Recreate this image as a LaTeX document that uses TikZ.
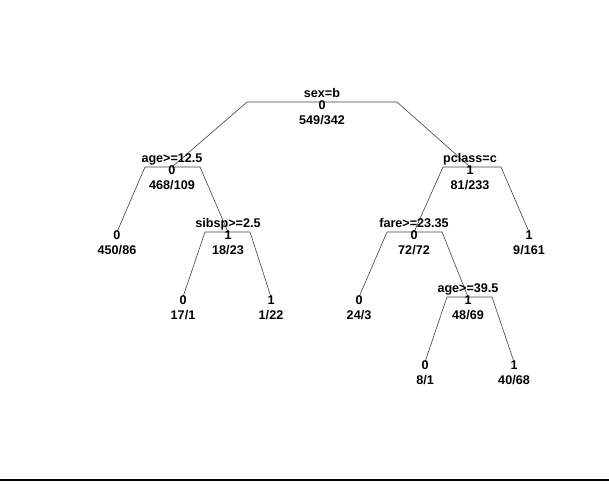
\documentclass[tikz,border=0pt]{standalone}
\usepackage{fontspec}
\setmainfont{Liberation Sans}
\begin{document}
\begin{tikzpicture}[x=1pt,y=-1pt,
  txt/.style={font=\bfseries\fontsize{12.6}{14}\selectfont, inner sep=0pt, anchor=base},
  br/.style={line width=0.6pt, draw=black!75}]
\useasboundingbox (0,0) rectangle (609,483);
% tree node points
\coordinate (n1) at (322,102);
\coordinate (n2) at (172,167);
\coordinate (n3) at (470,167);
\coordinate (n4) at (117,232);
\coordinate (n5) at (228,232);
\coordinate (n6) at (414,232);
\coordinate (n7) at (529,232);
\coordinate (n10) at (183,297);
\coordinate (n11) at (271,297);
\coordinate (n12) at (359,297);
\coordinate (n13) at (468,297);
\coordinate (n26) at (425,362);
\coordinate (n27) at (514,362);
% bar ends
\coordinate (n1L) at (247,102); \coordinate (n1R) at (397,102);
\coordinate (n2L) at (145,167); \coordinate (n2R) at (200,167);
\coordinate (n5L) at (205,232); \coordinate (n5R) at (250,232);
\coordinate (n3L) at (443,167); \coordinate (n3R) at (501,167);
\coordinate (n6L) at (387,232); \coordinate (n6R) at (442,232);
\coordinate (n13L) at (447,297); \coordinate (n13R) at (492,297);
% branches
\draw[br] (n2) -- (n1L) -- (n1R) -- (n3);
\draw[br] (n4) -- (n2L) -- (n2R) -- (n5);
\draw[br] (n10) -- (n5L) -- (n5R) -- (n11);
\draw[br] (n6) -- (n3L) -- (n3R) -- (n7);
\draw[br] (n12) -- (n6L) -- (n6R) -- (n13);
\draw[br] (n26) -- (n13L) -- (n13R) -- (n27);
% labels
\node[txt] (s1) at ([yshift=4.5pt]n1) {sex=b};
\node[txt] (s2) at ([yshift=4.5pt]n2) {age>=12.5};
\node[txt] (s3) at ([yshift=4.5pt]n3) {pclass=c};
\node[txt] (s5) at ([yshift=4.5pt]n5) {sibsp>=2.5};
\node[txt] (s6) at ([yshift=4.5pt]n6) {fare>=23.35};
\node[txt] (s13) at ([yshift=4.5pt]n13) {age>=39.5};
% predicted classes
\node[txt] (y1) at ([yshift=-7.5pt]n1) {0};
\node[txt] (y2) at ([yshift=-7.5pt]n2) {0};
\node[txt] (y3) at ([yshift=-7.5pt]n3) {1};
\node[txt] (y4) at ([yshift=-7.5pt]n4) {0};
\node[txt] (y5) at ([yshift=-7.5pt]n5) {1};
\node[txt] (y6) at ([yshift=-7.5pt]n6) {0};
\node[txt] (y7) at ([yshift=-7.5pt]n7) {1};
\node[txt] (y10) at ([yshift=-7.5pt]n10) {0};
\node[txt] (y11) at ([yshift=-7.5pt]n11) {1};
\node[txt] (y12) at ([yshift=-7.5pt]n12) {0};
\node[txt] (y13) at ([yshift=-7.5pt]n13) {1};
\node[txt] (y26) at ([yshift=-7.5pt]n26) {0};
\node[txt] (y27) at ([yshift=-7.5pt]n27) {1};
% counts
\node[txt] (c1) at ([yshift=-22.5pt]n1) {549/342};
\node[txt] (c2) at ([yshift=-22.5pt]n2) {468/109};
\node[txt] (c3) at ([yshift=-22.5pt]n3) {81/233};
\node[txt] (c4) at ([yshift=-22.5pt]n4) {450/86};
\node[txt] (c5) at ([yshift=-22.5pt]n5) {18/23};
\node[txt] (c6) at ([yshift=-22.5pt]n6) {72/72};
\node[txt] (c7) at ([yshift=-22.5pt]n7) {9/161};
\node[txt] (c10) at ([yshift=-22.5pt]n10) {17/1};
\node[txt] (c11) at ([yshift=-22.5pt]n11) {1/22};
\node[txt] (c12) at ([yshift=-22.5pt]n12) {24/3};
\node[txt] (c13) at ([yshift=-22.5pt]n13) {48/69};
\node[txt] (c26) at ([yshift=-22.5pt]n26) {8/1};
\node[txt] (c27) at ([yshift=-22.5pt]n27) {40/68};
% bottom rule
\coordinate (bl) at (0,480);
\coordinate (brr) at (609,480);
\draw[line width=1.4pt] (bl) -- (brr);
\end{tikzpicture}
\end{document}
